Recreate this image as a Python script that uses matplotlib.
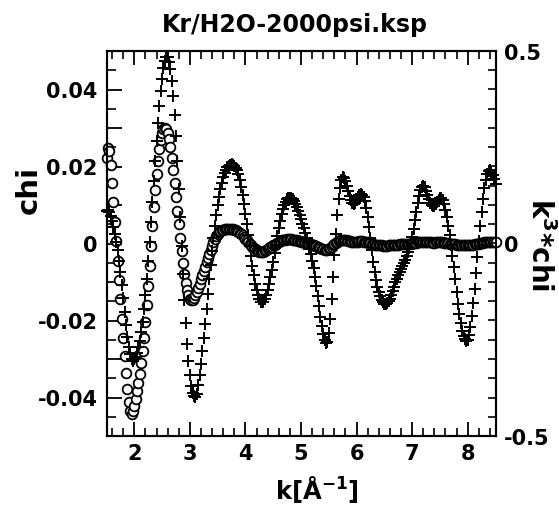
import numpy as np
import matplotlib
matplotlib.use("Agg")
import matplotlib.pyplot as plt
from matplotlib.ticker import MultipleLocator, FixedLocator, FuncFormatter

plt.rcParams['font.family'] = ['DejaVu Sans']
plt.rcParams['font.weight'] = 'bold'
plt.rcParams['mathtext.fontset'] = 'dejavusans'
plt.rcParams['mathtext.default'] = 'bf'

TITLE = "Kr/H2O-2000psi.ksp"
K_FIRST, K_LAST = 1.5, 8.5

# k^3*chi (right axis), sampled every 0.025 from 1.5 to 8.5
k3chi = [
    0.085, 0.086, 0.082, 0.072, 0.058, 0.042, 0.024, 0.004,          # 1.5
    -0.018, -0.045, -0.075, -0.108, -0.142, -0.178, -0.212, -0.243,  # 1.7
    -0.268, -0.287, -0.299, -0.304, -0.300, -0.295, -0.284, -0.270,  # 1.9
    -0.252, -0.230, -0.203, -0.171, -0.134, -0.092, -0.046, 0.003,   # 2.1
    0.055, 0.108, 0.162, 0.215, 0.266, 0.314, 0.357, 0.395,          # 2.3
    0.428, 0.455, 0.474, 0.485, 0.484, 0.472, 0.452, 0.422,          # 2.5
    0.383, 0.335, 0.278, 0.213, 0.142, 0.068, -0.006, -0.078,        # 2.7
    -0.146, -0.207, -0.260, -0.305, -0.342, -0.370, -0.388, -0.397,  # 2.9
    -0.398, -0.390, -0.368, -0.342, -0.312, -0.280, -0.245, -0.208,  # 3.1
    -0.170, -0.131, -0.092, -0.055, -0.020, 0.014, 0.045, 0.074,     # 3.3
    0.100, 0.122, 0.142, 0.158, 0.172, 0.183, 0.192, 0.198,          # 3.5
    0.202, 0.205, 0.206, 0.205, 0.202, 0.197, 0.190, 0.180,          # 3.7
    0.166, 0.148, 0.127, 0.103, 0.077, 0.050, 0.022, -0.006,         # 3.9
    -0.033, -0.059, -0.083, -0.104, -0.121, -0.135, -0.145, -0.151,  # 4.1
    -0.153, -0.151, -0.145, -0.135, -0.122, -0.106, -0.088, -0.068,  # 4.3
    -0.047, -0.025, -0.003, 0.019, 0.040, 0.059, 0.076, 0.090,       # 4.5
    0.101, 0.109, 0.115, 0.118, 0.119, 0.118, 0.115, 0.110,          # 4.7
    0.103, 0.095, 0.085, 0.074, 0.063, 0.051, 0.039, 0.027,          # 4.9
    0.014, 0.001, -0.013, -0.028, -0.045, -0.064, -0.086, -0.110,    # 5.1
    -0.136, -0.163, -0.190, -0.215, -0.236, -0.251, -0.259, -0.255,  # 5.3
    -0.232, -0.195, -0.145, -0.088, -0.030, 0.025, 0.075, 0.115,     # 5.5
    0.145, 0.164, 0.172, 0.170, 0.162, 0.150, 0.136, 0.123,          # 5.7
    0.112, 0.105, 0.103, 0.106, 0.113, 0.120, 0.125, 0.128,          # 5.9
    0.127, 0.121, 0.110, 0.093, 0.070, 0.043, 0.013, -0.018,         # 6.1
    -0.048, -0.074, -0.095, -0.112, -0.126, -0.137, -0.146, -0.152,  # 6.3
    -0.156, -0.157, -0.155, -0.150, -0.143, -0.134, -0.123, -0.112,  # 6.5
    -0.101, -0.091, -0.082, -0.074, -0.066, -0.058, -0.050, -0.042,  # 6.7
    -0.033, -0.023, -0.012, 0.002, 0.018, 0.038, 0.060, 0.083,       # 6.9
    0.105, 0.124, 0.139, 0.148, 0.150, 0.146, 0.137, 0.126,          # 7.1
    0.115, 0.106, 0.100, 0.097, 0.098, 0.103, 0.109, 0.114,          # 7.3
    0.117, 0.117, 0.112, 0.102, 0.087, 0.068, 0.046, 0.022,          # 7.5
    -0.004, -0.032, -0.062, -0.093, -0.125, -0.156, -0.184, -0.207,  # 7.7
    -0.226, -0.240, -0.249, -0.253, -0.250, -0.238, -0.217, -0.189,  # 7.9
    -0.155, -0.117, -0.077, -0.036, 0.006, 0.046, 0.083, 0.116,      # 8.1
    0.144, 0.166, 0.181, 0.189, 0.190, 0.185, 0.177, 0.167,          # 8.3
    0.155,                                                           # 8.5
]

# chi (left axis), same sampling
chi = [
    0.0222, 0.0248, 0.0240, 0.0205, 0.0158, 0.0108, 0.0057, 0.0006,
    -0.0045, -0.0095, -0.0145, -0.0195, -0.0245, -0.0292, -0.0337, -0.0378,
    -0.0412, -0.0435, -0.0442, -0.0436, -0.0422, -0.0404, -0.0384, -0.0362,
    -0.0338, -0.0311, -0.0280, -0.0245, -0.0205, -0.0160, -0.0111, -0.0059,
    -0.0006, 0.0046, 0.0095, 0.0140, 0.0180, 0.0215, 0.0245, 0.0269,
    0.0286, 0.0297, 0.0301, 0.0298, 0.0288, 0.0272, 0.0250, 0.0222,
    0.0192, 0.0158, 0.0122, 0.0085, 0.0050, 0.0015, -0.0019, -0.0050,
    -0.0078, -0.0102, -0.0121, -0.0135, -0.0144, -0.0148, -0.0147, -0.0142,
    -0.0134, -0.0125, -0.0115, -0.0104, -0.0093, -0.0082, -0.0071, -0.0060,
    -0.0049, -0.0038, -0.0027, -0.0016, -0.0006, 0.0004, 0.0012, 0.0019,
    0.0025, 0.0029, 0.0032, 0.0035, 0.0036, 0.0037, 0.0038, 0.0038,
    0.0038, 0.0038, 0.0038, 0.0037, 0.0036, 0.0035, 0.0033, 0.0031,
    0.0028, 0.0024, 0.0021, 0.0016, 0.0012, 0.0008, 0.0003, -0.0001,
    -0.0005, -0.0008, -0.0012, -0.0014, -0.0016, -0.0019, -0.0021, -0.0022,
    -0.0022, -0.0022, -0.0020, -0.0018, -0.0015, -0.0012, -0.0010, -0.0008,
    -0.0005, -0.0003, 0.0000, 0.0002, 0.0004, 0.0006, 0.0008, 0.0009,
    0.0010, 0.0010, 0.0011, 0.0011, 0.0011, 0.0011, 0.0010, 0.0009,
    0.0009, 0.0008, 0.0007, 0.0006, 0.0005, 0.0004, 0.0003, 0.0002,
    0.0001, 0.0000, -0.0001, -0.0002, -0.0003, -0.0004, -0.0006, -0.0007,
    -0.0009, -0.0011, -0.0012, -0.0014, -0.0015, -0.0016, -0.0016, -0.0016,
    -0.0014, -0.0012, -0.0008, -0.0005, -0.0002, 0.0001, 0.0004, 0.0006,
    0.0008, 0.0009, 0.0009, 0.0009, 0.0008, 0.0008, 0.0007, 0.0006,
    0.0005, 0.0005, 0.0005, 0.0005, 0.0005, 0.0005, 0.0006, 0.0006,
    0.0006, 0.0005, 0.0005, 0.0004, 0.0003, 0.0002, 0.0001, -0.0001,
    -0.0002, -0.0003, -0.0004, -0.0004, -0.0005, -0.0005, -0.0005, -0.0006,
    -0.0006, -0.0006, -0.0006, -0.0005, -0.0005, -0.0005, -0.0004, -0.0004,
    -0.0003, -0.0003, -0.0003, -0.0002, -0.0002, -0.0002, -0.0002, -0.0001,
    -0.0001, -0.0001, 0.0000, 0.0000, 0.0001, 0.0001, 0.0002, 0.0002,
    0.0003, 0.0003, 0.0004, 0.0004, 0.0004, 0.0004, 0.0004, 0.0003,
    0.0003, 0.0003, 0.0003, 0.0002, 0.0002, 0.0003, 0.0003, 0.0003,
    0.0003, 0.0003, 0.0003, 0.0002, 0.0002, 0.0002, 0.0001, 0.0000,
    0.0000, -0.0001, -0.0001, -0.0002, -0.0003, -0.0003, -0.0004, -0.0004,
    -0.0005, -0.0005, -0.0005, -0.0005, -0.0005, -0.0005, -0.0004, -0.0004,
    -0.0003, -0.0002, -0.0001, -0.0001, 0.0000, 0.0001, 0.0001, 0.0002,
    0.0003, 0.0003, 0.0003, 0.0003, 0.0003, 0.0003, 0.0003, 0.0003,
    0.0003,
]

k = np.linspace(K_FIRST, K_LAST, len(k3chi))

W, H = 559, 510
fig = plt.figure(figsize=(W / 100, H / 100), dpi=100)
L, R, T, B = 106.5, 495.5, 52, 437
ax = fig.add_axes([L / W, 1 - B / H, (R - L) / W, (B - T) / H])
ax2 = ax.twinx()

ax.plot(k, chi, linestyle='none', marker='o', mfc='white', mec='black',
        ms=7.0, mew=1.3, clip_on=False, zorder=3)
ax2.plot(k, k3chi, linestyle='none', marker='+', color='black',
         ms=8.0, mew=1.4, clip_on=False, zorder=4)

ax.set_xlim(K_FIRST, K_LAST)
ax.set_ylim(-0.05, 0.05)
ax2.set_ylim(-0.5, 0.5)

for a in (ax, ax2):
    for s in a.spines.values():
        s.set_linewidth(1.5)

ax.xaxis.set_major_locator(FixedLocator([2, 3, 4, 5, 6, 7, 8]))
ax.xaxis.set_minor_locator(MultipleLocator(0.2))
ax.yaxis.set_major_locator(MultipleLocator(0.01))
ax.yaxis.set_minor_locator(MultipleLocator(0.005))

def left_fmt(v, pos):
    n = int(round(v * 100))
    if n == 0:
        return "0"
    if n % 2 == 0:
        return "%.2f" % (n / 100)
    return ""
ax.yaxis.set_major_formatter(FuncFormatter(left_fmt))
ax.xaxis.set_major_formatter(FuncFormatter(lambda v, p: "%d" % round(v)))

TICK_FS = 15
ax.tick_params(axis='x', which='major', direction='in', top=True, length=10,
               width=1.3, labelsize=TICK_FS, pad=5)
ax.tick_params(axis='x', which='minor', direction='in', top=True, length=5.5,
               width=1.2)
ax.tick_params(axis='y', which='major', direction='in', right=False, length=11,
               width=1.3, labelsize=TICK_FS, pad=6.5)
ax.tick_params(axis='y', which='minor', direction='in', right=False, length=6.5,
               width=1.2)

ax2.yaxis.set_major_locator(FixedLocator([-0.5, 0, 0.5]))
ax2.yaxis.set_minor_locator(MultipleLocator(0.05))
ax2.yaxis.set_major_formatter(FuncFormatter(
    lambda v, p: "0" if abs(v) < 1e-9 else "%.1f" % v))
ax2.tick_params(axis='y', which='major', direction='in', length=6,
                width=1.2, labelsize=TICK_FS, pad=6)
ax2.tick_params(axis='y', which='minor', direction='in', length=6, width=1.2)

for lab in ax.get_xticklabels() + ax.get_yticklabels() + ax2.get_yticklabels():
    lab.set_fontweight('bold')

fig.text(295 / W, 1 - 25 / H, TITLE, ha='center', va='center',
         fontsize=17, fontweight='bold')
fig.text(29 / W, 1 - 190 / H, "chi", rotation=90, ha='center', va='center',
         fontsize=21, fontweight='bold')
fig.text(540 / W, 1 - 245 / H, r"k$^{3}$*chi", rotation=-90, ha='center',
         va='center', fontsize=20, fontweight='bold')
fig.text(317 / W, 1 - 490 / H, r"k[Å$^{-1}$]", ha='center', va='center',
         fontsize=17.5, fontweight='bold')

fig.savefig("out.png", dpi=100)
